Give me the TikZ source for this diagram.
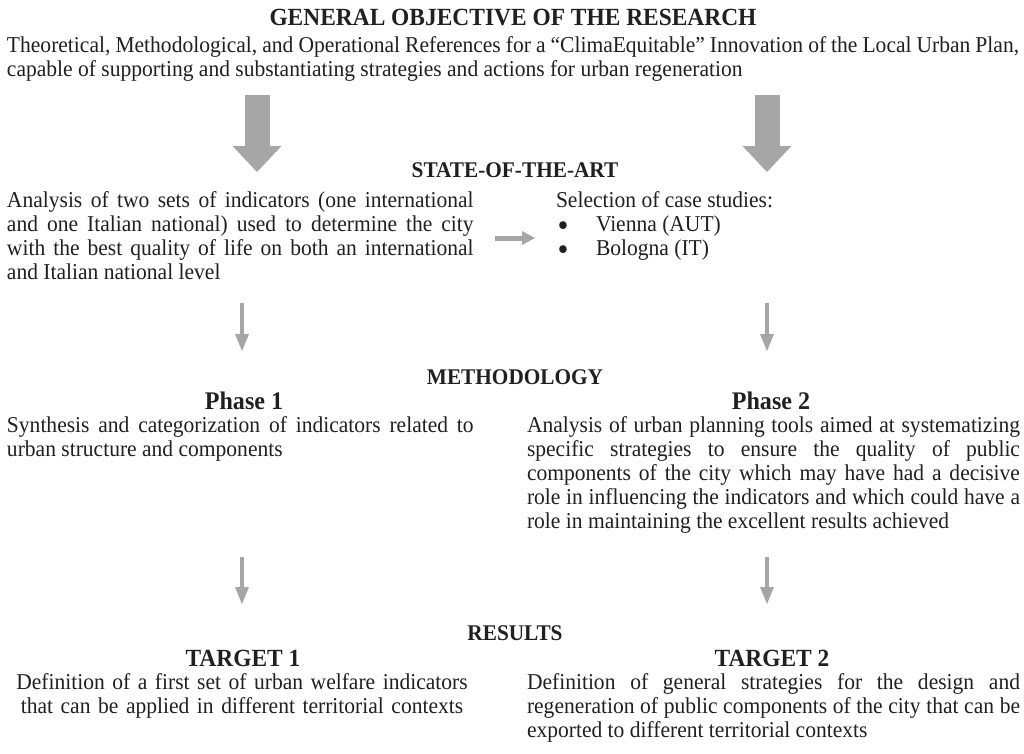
\documentclass[tikz,border=0pt]{standalone}
\usepackage{fontspec}
\setmainfont{Liberation Serif}[FakeStretch=0.95]
\usetikzlibrary{arrows.meta}
\definecolor{ink}{RGB}{35,31,32}
\definecolor{arrowgray}{RGB}{166,166,166}
\begin{document}
\begin{tikzpicture}[x=0.75pt,y=-0.75pt,
  every node/.style={inner sep=0pt, outer sep=0pt, text=ink},
  body/.style={font=\fontsize{17}{18}\selectfont},
  para/.style={body, align=justify, anchor=base west},
  heading/.style={font=\bfseries\fontsize{16.8}{18}\selectfont, anchor=base},
  phasehead/.style={font=\bfseries\fontsize{19}{20}\selectfont, anchor=base},
  targethead/.style={font=\bfseries\fontsize{18.5}{20}\selectfont, anchor=base},
  bulletmark/.style={font=\fontsize{17}{18}\selectfont, anchor=base},
  bigarrow/.style={draw=arrowgray, line width=18.75pt,
    -{Triangle[width=36.75pt,length=19.5pt,line width=0pt]}},
  thinarrow/.style={draw=arrowgray, line width=2.6pt,
    -{Triangle[width=10.5pt,length=12.75pt,line width=0pt]}},
  sidearrow/.style={draw=arrowgray, line width=3.75pt,
    -{Triangle[width=10.5pt,length=9.75pt,line width=0pt]}}]

\useasboundingbox (0,0) rectangle (1024,753);
\fill[white] (0,0) rectangle (1024,753);

% general objective
\node[font=\bfseries\fontsize{18.5}{20}\selectfont, anchor=base] (goal) at (513,25)
  {GENERAL OBJECTIVE OF THE RESEARCH};
\node[para, text width=759pt] (goaltext) at (7,52)
  {Theoretical, Methodological, and Operational References for a “ClimaEquitable” Innovation of the Local Urban Plan,\linebreak
   capable of supporting and substantiating strategies and actions for urban regeneration};

% block arrows down to the state of the art
\coordinate (bigLtop) at (257,95);  \coordinate (bigLtip) at (257,172);
\coordinate (bigRtop) at (767,95);  \coordinate (bigRtip) at (767,172);
\draw[bigarrow] (bigLtop) -- (bigLtip);
\draw[bigarrow] (bigRtop) -- (bigRtip);

% state of the art
\node[heading] (sota) at (515,177) {STATE-OF-THE-ART};
\node[para, text width=350pt] (indicators) at (7,207)
  {Analysis of two sets of indicators (one international\linebreak
   and one Italian national) used to determine the city\linebreak
   with the best quality of life on both an international\linebreak
   and Italian national level};
\node[body, anchor=base west] (cases) at (556,207) {Selection of case studies:};
\node[bulletmark] (bulletA) at (563,231) {\smash{\raisebox{-4pt}{\scalebox{1.45}{•}}}};
\node[body, anchor=base west] (vienna) at (596,231) {Vienna (AUT)};
\node[bulletmark] (bulletB) at (563,255) {\smash{\raisebox{-4pt}{\scalebox{1.45}{•}}}};
\node[body, anchor=base west] (bologna) at (596,255) {Bologna (IT)};

\coordinate (sideA) at (495,238); \coordinate (sideB) at (535,238);
\draw[sidearrow] (sideA) -- (sideB);

% arrows to the methodology
\coordinate (m1a) at (242,303); \coordinate (m1b) at (242,351);
\coordinate (m2a) at (767,303); \coordinate (m2b) at (767,351);
\draw[thinarrow] (m1a) -- (m1b);
\draw[thinarrow] (m2a) -- (m2b);

% methodology
\node[heading] (method) at (515,384) {METHODOLOGY};
\node[phasehead] (phase1) at (244,409) {Phase 1};
\node[phasehead] (phase2) at (771,409) {Phase 2};
\node[para, text width=350pt] (phase1text) at (7,432)
  {Synthesis and categorization of indicators related to\linebreak
   urban structure and components};
\node[para, text width=369.75pt] (phase2text) at (527,432)
  {Analysis of urban planning tools aimed at systematizing\linebreak
   specific strategies to ensure the quality of public\linebreak
   components of the city which may have had a decisive\linebreak
   role in influencing the indicators and which could have a\linebreak
   role in maintaining the excellent results achieved};

% arrows to the results
\coordinate (r1a) at (242,557); \coordinate (r1b) at (242,604);
\coordinate (r2a) at (767,557); \coordinate (r2b) at (767,604);
\draw[thinarrow] (r1a) -- (r1b);
\draw[thinarrow] (r2a) -- (r2b);

% results
\node[heading] (results) at (515,640) {RESULTS};
\node[targethead] (target1) at (243,666) {TARGET 1};
\node[targethead] (target2) at (772,666) {TARGET 2};
\node[body, text width=350pt, align=center, anchor=base] (target1text) at (242,689)
  {Definition of a first set of urban welfare indicators\\
   that can be applied in different territorial contexts};
\node[para, text width=369.75pt] (target2text) at (527,689)
  {Definition of general strategies for the design and\linebreak
   regeneration of public components of the city that can be\linebreak
   exported to different territorial contexts};
\end{tikzpicture}
\end{document}
